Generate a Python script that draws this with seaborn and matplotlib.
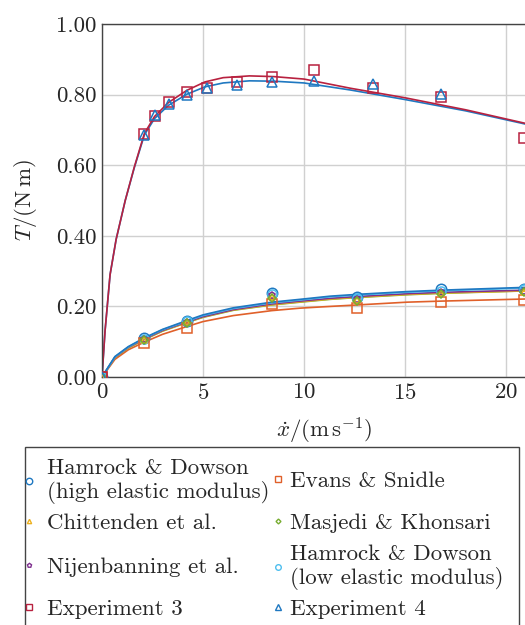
import matplotlib
matplotlib.use("Agg")
import matplotlib.pyplot as plt
from matplotlib.lines import Line2D
from matplotlib.patches import Rectangle
import seaborn as sns
import numpy as np

# ---------------- data ----------------
# experiments (upper branch)
x_exp = [0, 2.1, 2.6, 3.3, 4.2, 5.2, 6.7, 8.4, 10.5, 13.4, 16.8, 20.9]
y_exp3 = [0, 0.688, 0.739, 0.780, 0.808, 0.820, 0.836, 0.851, 0.869, 0.818, 0.793, 0.677]
x_exp4 = [0, 2.1, 2.6, 3.3, 4.2, 5.2, 6.7, 8.4, 10.5, 13.4, 16.8]
y_exp4 = [0, 0.686, 0.742, 0.773, 0.799, 0.819, 0.826, 0.835, 0.839, 0.829, 0.801]

x_fit_up = [0, 0.15, 0.4, 0.7, 1.15, 1.6, 2.1, 2.6, 3.3, 4.2, 5.1, 6.0, 7.3, 8.5, 10, 12.3, 15, 18, 21]
y_fit_exp3 = [0, 0.13, 0.29, 0.39, 0.50, 0.595, 0.690, 0.738, 0.778, 0.812, 0.836,
              0.848, 0.853, 0.851, 0.844, 0.818, 0.791, 0.757, 0.718]
y_fit_exp4 = [0, 0.13, 0.29, 0.39, 0.50, 0.593, 0.686, 0.732, 0.770, 0.801, 0.822,
              0.833, 0.839, 0.838, 0.833, 0.813, 0.786, 0.754, 0.716]

# models (lower branch)
x_mod = [0, 2.1, 4.2, 8.4, 12.6, 16.8, 20.9]
y_hd_high = [0, 0.111, 0.160, 0.237, 0.227, 0.248, 0.250]
y_evans = [0, 0.097, 0.140, 0.206, 0.195, 0.213, 0.218]
y_chitt = [0, 0.105, 0.155, 0.228, 0.218, 0.238, 0.242]
y_masj = [0, 0.104, 0.153, 0.225, 0.216, 0.236, 0.241]
y_nijen = [0, 0.107, 0.156, 0.231, 0.221, 0.241, 0.245]
y_hd_low = [0, 0.109, 0.158, 0.234, 0.224, 0.244, 0.248]

x_fit_low = [0, 0.64, 1.3, 2.1, 3.0, 4.2, 5.0, 6.5, 8.4, 9.8, 11.3, 12.6, 15.1, 16.8, 21]
f_hd_high = [0, 0.058, 0.086, 0.111, 0.135, 0.160, 0.176, 0.196, 0.212, 0.220, 0.229, 0.234, 0.242, 0.246, 0.254]
f_hd_low = [0, 0.057, 0.085, 0.110, 0.134, 0.158, 0.174, 0.194, 0.210, 0.218, 0.227, 0.232, 0.240, 0.244, 0.252]
f_nijen = [0, 0.056, 0.084, 0.108, 0.132, 0.156, 0.171, 0.191, 0.207, 0.215, 0.223, 0.228, 0.236, 0.240, 0.246]
f_chitt = [0, 0.055, 0.083, 0.107, 0.131, 0.155, 0.170, 0.190, 0.205, 0.213, 0.221, 0.226, 0.234, 0.238, 0.244]
f_masj = [0, 0.055, 0.082, 0.106, 0.130, 0.154, 0.169, 0.189, 0.204, 0.212, 0.220, 0.225, 0.233, 0.237, 0.244]
f_evans = [0, 0.050, 0.077, 0.099, 0.121, 0.143, 0.157, 0.174, 0.188, 0.195, 0.200, 0.204, 0.212, 0.215, 0.221]

labels = {
    "hd_high": "Hamrock & Dowson\n(high elastic modulus)",
    "evans": "Evans & Snidle",
    "chitt": "Chittenden et al.",
    "masj": "Masjedi & Khonsari",
    "nijen": "Nijenbanning et al.",
    "hd_low": "Hamrock & Dowson\n(low elastic modulus)",
    "exp3": "Experiment 3",
    "exp4": "Experiment 4",
}

# ---------------- style ----------------
sns.set_style("whitegrid")
plt.rcParams["font.family"] = ["cmr10", "DejaVu Serif"]
plt.rcParams["mathtext.fontset"] = "cm"
plt.rcParams["axes.formatter.use_mathtext"] = True
plt.rcParams["axes.unicode_minus"] = False
FS = 16.5

C = {
    "hd_high": "#1f78c1", "evans": "#E0602A", "chitt": "#EDB120", "masj": "#77AC30",
    "nijen": "#7E2F8E", "hd_low": "#4DBEEE", "exp3": "#B8213F", "exp4": "#1f78c1",
}
M = {
    "hd_high": "o", "evans": "s", "chitt": "^", "masj": "D",
    "nijen": "p", "hd_low": "o", "exp3": "s", "exp4": "^",
}
MS = {"hd_high": 7.5, "evans": 7, "chitt": 5, "masj": 4, "nijen": 5, "hd_low": 6.5, "exp3": 7.5, "exp4": 6.5}

W, H = 525, 625
fig = plt.figure(figsize=(W / 100, H / 100), dpi=100)
x_max = 22.0
ax = fig.add_axes([102 / W, 1 - 377 / H, (x_max * 20.2) / W, (377 - 24) / H])

def curve(x, y, key, lw=1.2):
    sns.lineplot(x=x, y=y, color=C[key], lw=lw, ax=ax, estimator=None, sort=False,
                 legend=False, zorder=2)

def marks(x, y, key):
    sns.lineplot(x=x, y=y, color=C[key], marker=M[key], linestyle="", ms=MS[key],
                 markerfacecolor="none", markeredgecolor=C[key], markeredgewidth=1.1,
                 ax=ax, estimator=None, sort=False, legend=False, zorder=3)

curve(x_fit_low, f_evans, "evans")
curve(x_fit_low, f_masj, "masj")
curve(x_fit_low, f_chitt, "chitt")
curve(x_fit_low, f_nijen, "nijen")
curve(x_fit_low, f_hd_low, "hd_low")
curve(x_fit_low, f_hd_high, "hd_high")
curve(x_fit_up, y_fit_exp4, "exp4")
curve(x_fit_up, y_fit_exp3, "exp3")

marks(x_mod, y_hd_high, "hd_high")
marks(x_mod, y_hd_low, "hd_low")
marks(x_mod, y_evans, "evans")
marks(x_mod, y_nijen, "nijen")
marks(x_mod, y_chitt, "chitt")
marks(x_mod, y_masj, "masj")
marks(x_exp, y_exp3, "exp3")
marks(x_exp4, y_exp4, "exp4")

ax.set_xlim(0, x_max)
ax.set_ylim(0, 1.0)
ax.set_xticks([0, 5, 10, 15, 20])
ax.set_yticks([0, 0.2, 0.4, 0.6, 0.8, 1.0])
ax.yaxis.set_major_formatter(matplotlib.ticker.FormatStrFormatter("%.2f"))
ax.grid(True, color="#d0d0d0", lw=1.0)
for s in ax.spines.values():
    s.set_color("#444444")
    s.set_linewidth(1.0)
ax.tick_params(axis="both", labelsize=FS, direction="in", length=4, color="#444444", pad=4)
ax.set_xlabel(r"$\dot{x}/(\mathrm{m\,s^{-1}})$", fontsize=FS, labelpad=9)
ax.set_ylabel(r"$T/(\mathrm{N\,m})$", fontsize=FS, labelpad=12)
for lab in ax.get_xticklabels() + ax.get_yticklabels():
    lab.set_fontsize(FS)

# ---------------- legend ----------------
fig.patches.append(Rectangle((25 / W, -0.05), (519 - 25) / W, (625 - 447) / H + 0.05,
                             transform=fig.transFigure, fill=False, ec="#444444", lw=1.0))
rows = [481, 523, 567, 609]
col1 = ["hd_high", "chitt", "nijen", "exp3"]
col2 = ["evans", "masj", "hd_low", "exp4"]
for col, x0, pad in [(col1, 23, 0.55), (col2, 272, 0.28)]:
    for key, yr in zip(col, rows):
        h = Line2D([], [], marker=M[key], color=C[key], linestyle="", ms=MS[key] * 0.62,
                   markerfacecolor="none", markeredgewidth=1.0)
        fig.legend(handles=[h], labels=[labels[key]], loc="center left",
                   bbox_to_anchor=(x0 / W, 1 - yr / H), frameon=False, borderpad=0,
                   borderaxespad=0, handlelength=0.5, handletextpad=pad, fontsize=FS)

fig.savefig("out.png", dpi=100)
